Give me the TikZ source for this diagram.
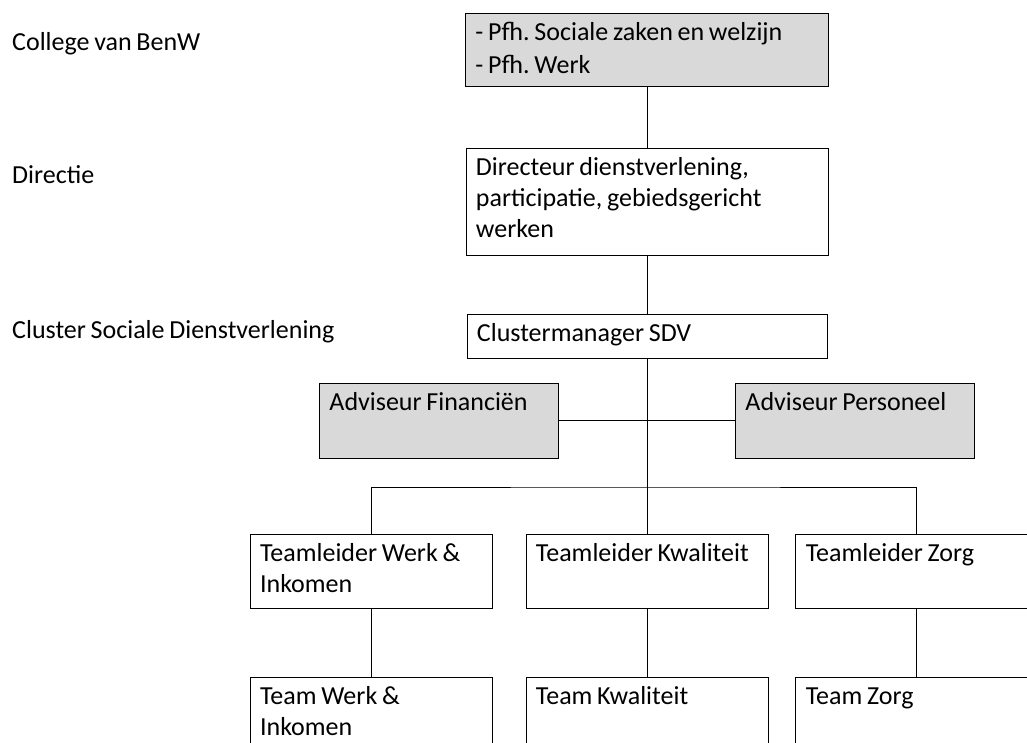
\documentclass[tikz,border=0pt]{standalone}
\usepackage{fontspec}
\setmainfont[WordSpace=0.8]{Carlito}
\frenchspacing
\usepackage{tikz}
\usetikzlibrary{positioning}

\begin{document}
\begin{tikzpicture}[
  x=1pt, y=-1pt,
  node distance = 60pt and 30pt,
  unit/.style  = {rectangle, draw, line width=0.9pt, align=flush left, inner xsep=10pt,
                  inner ysep=0pt, text height=27pt, font=\fontsize{26}{31}\selectfont},
  staff/.style = {unit, fill=black!15},
  team/.style  = {unit, text width=222pt},
  lvl/.style   = {anchor=base west, inner sep=0pt, font=\fontsize{26}{31}\selectfont},
  link/.style  = {line width=0.8pt}
]
  \useasboundingbox (0,0) rectangle (1027,742);
  \clip (0,0) rectangle (1027,742);

  \node[lvl] (bw)   at (12,50)  {College van BenW};
  \node[lvl] (drl)  at (12,183) {Directie};
  \node[lvl] (csd)  at (12,338) {Cluster Sociale Dienstverlening};

  \node[staff, anchor=north west, text width=343pt, text depth=46pt] (pfh) at (465,13)
        {- Pfh. Sociale zaken en welzijn\\[2pt]- Pfh. Werk};
  \node[unit, below=61pt of pfh, text width=342pt, text depth=80pt] (dir)
        {Directeur dienstverlening,\\participatie, gebiedsgericht\\werken};
  \node[unit, below=58pt of dir, text width=340pt, text depth=17pt] (clm) {Clustermanager SDV};
  \node[staff, below=24pt of clm, xshift=-208pt, text width=219pt, text depth=48pt] (fin)
        {Adviseur Financiën};
  \node[staff, below=24pt of clm, xshift=208pt, text width=219pt, text depth=48pt] (pers)
        {Adviseur Personeel};

  \node[team, below=175pt of clm, text depth=47pt] (tlK) {Teamleider Kwaliteit};
  \node[team, left=33pt of tlK, text depth=47pt] (tlW) {Teamleider Werk \&\\Inkomen};
  \node[team, right=27pt of tlK, text depth=47pt] (tlZ) {Teamleider Zorg};
  \node[team, below=68pt of tlW, text depth=73pt] (tmW) {Team Werk \&\\Inkomen};
  \node[team, below=68pt of tlK, text depth=73pt] (tmK) {Team Kwaliteit};
  \node[team, below=68pt of tlZ, text depth=73pt] (tmZ) {Team Zorg};

  \coordinate (bar) at (0,487);
  \draw[link] (pfh) -- (dir);
  \draw[link] (dir) -- (clm);
  \draw[link] (clm) -- (tlK);
  \draw[link] (fin) -- (pers);
  \draw[link] (tlW.north) |- (bar -| tlK.north) -| (tlZ.north);
  \draw[link] (tlW) -- (tmW);
  \draw[link] (tlK) -- (tmK);
  \draw[link] (tlZ) -- (tmZ);
\end{tikzpicture}
\end{document}
